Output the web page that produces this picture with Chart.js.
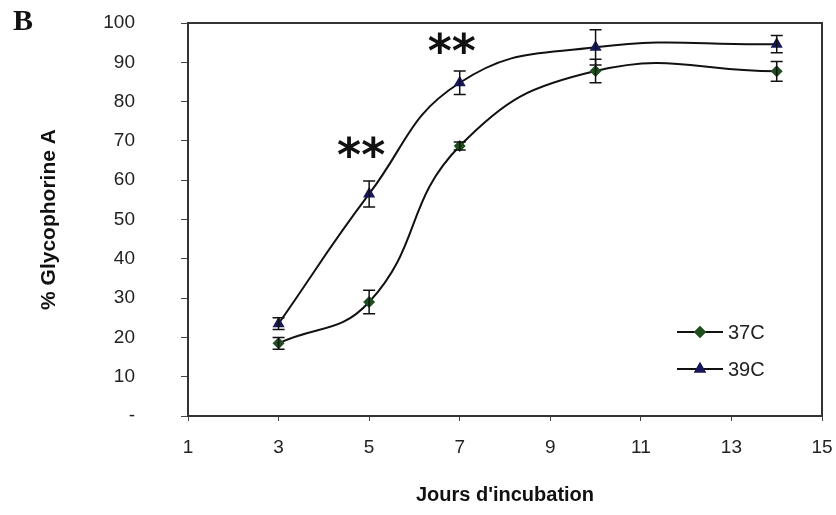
<!DOCTYPE html>
<html>
<head>
<meta charset="utf-8">
<script src="https://cdn.jsdelivr.net/npm/chart.js@4/dist/chart.umd.min.js"></script>
<style>
  html, body { margin: 0; padding: 0; background: #ffffff; }
  #wrap { width: 836px; height: 515px; position: relative; }
</style>
</head>
<body>
<div id="wrap"><canvas id="c" width="836" height="515"></canvas></div>
<script>
// ---- data ----
const days = [3, 5, 7, 10, 14];
const series37 = [18.5, 29, 68.7, 87.8, 87.7];
const err37 = [1.5, 3, 1, 3, 2.5];
const series39 = [23.5, 56.5, 84.8, 93.8, 94.6];
const err39 = [1.5, 3.3, 3, 4.5, 2.2];
const seriesNames = ['37C', '39C'];
const xTicks = [1, 3, 5, 7, 9, 11, 13, 15];
const yTicks = [0, 10, 20, 30, 40, 50, 60, 70, 80, 90, 100];
const starX = [5, 7];
const starY = [67.5, 93.8];
const starText = '**';
const panelLabel = 'B';
const yTitle = '% Glycophorine A';
const xTitle = "Jours d'incubation";

const green = '#1f4f1f';
const navy = '#17175a';

const errorBars = {
  id: 'errorBars',
  afterDatasetsDraw(chart) {
    const ctx = chart.ctx;
    const xs = chart.scales.x, ys = chart.scales.y;
    ctx.save();
    ctx.strokeStyle = '#111';
    ctx.lineWidth = 1.5;
    chart.data.datasets.forEach(ds => {
      ds.data.forEach((p, i) => {
        const e = ds.errs[i];
        const x = xs.getPixelForValue(p.x);
        const y1 = ys.getPixelForValue(p.y + e);
        const y2 = ys.getPixelForValue(p.y - e);
        ctx.beginPath();
        ctx.moveTo(x, y1); ctx.lineTo(x, y2);
        ctx.moveTo(x - 6, y1); ctx.lineTo(x + 6, y1);
        ctx.moveTo(x - 6, y2); ctx.lineTo(x + 6, y2);
        ctx.stroke();
      });
    });
    ctx.restore();
  }
};

const extras = {
  id: 'extras',
  afterDraw(chart) {
    const ctx = chart.ctx;
    const a = chart.chartArea;
    const xs = chart.scales.x, ys = chart.scales.y;
    ctx.save();
    // frame
    ctx.strokeStyle = '#333';
    ctx.lineWidth = 2;
    ctx.strokeRect(a.left, a.top, a.right - a.left, a.bottom - a.top);
    // stars
    ctx.fillStyle = '#111';
    ctx.font = 'bold 46px "DejaVu Sans"';
    ctx.textAlign = 'center';
    ctx.textBaseline = 'middle';
    starX.forEach((sx, i) => {
      ctx.fillText(starText, xs.getPixelForValue(sx) - 8, ys.getPixelForValue(starY[i]) + 8);
    });
    // panel label
    ctx.font = 'bold 30px "Liberation Serif"';
    ctx.textAlign = 'left';
    ctx.textBaseline = 'middle';
    ctx.fillText(panelLabel, 13, 22);
    // legend
    const rows = [{y: 332, color: green, style: 'rectRot', r: 6}, {y: 369, color: navy, style: 'triangle', r: 7}];
    rows.forEach((row, i) => {
      ctx.strokeStyle = '#111';
      ctx.lineWidth = 2;
      ctx.beginPath();
      ctx.moveTo(677, row.y); ctx.lineTo(723, row.y);
      ctx.stroke();
      ctx.fillStyle = row.color;
      Chart.helpers.drawPoint(ctx, {pointStyle: row.style, radius: row.r, borderWidth: 0}, 700, row.y);
      ctx.fill();
      ctx.fillStyle = '#222';
      ctx.font = '20px "Liberation Sans"';
      ctx.textAlign = 'left';
      ctx.fillText(seriesNames[i], 728, row.y + 1);
    });
    ctx.restore();
  }
};

const mk = (xs, ys) => xs.map((x, i) => ({x: x, y: ys[i]}));

new Chart(document.getElementById('c'), {
  type: 'line',
  data: {
    datasets: [
      {
        label: seriesNames[0],
        data: mk(days, series37),
        errs: err37,
        borderColor: '#111',
        borderWidth: 2,
        tension: 0.45,
        pointStyle: 'rectRot',
        pointRadius: 6,
        pointBackgroundColor: green,
        pointBorderColor: green,
        pointBorderWidth: 0,
        fill: false
      },
      {
        label: seriesNames[1],
        data: mk(days, series39),
        errs: err39,
        borderColor: '#111',
        borderWidth: 2,
        tension: 0.45,
        pointStyle: 'triangle',
        pointRadius: 7,
        pointBackgroundColor: navy,
        pointBorderColor: navy,
        pointBorderWidth: 0,
        fill: false
      }
    ]
  },
  options: {
    responsive: false,
    animation: false,
    devicePixelRatio: 1,
    layout: { padding: { top: 23, right: 14, left: 0, bottom: 0 } },
    plugins: { legend: { display: false }, tooltip: { enabled: false } },
    scales: {
      x: {
        type: 'linear',
        min: 1, max: 15,
        afterFit(s) { s.height = 99; s.paddingLeft = 0; s.paddingRight = 0; },
        afterBuildTicks(s) { s.ticks = xTicks.map(v => ({value: v})); },
        grid: { drawOnChartArea: false, drawTicks: true, tickLength: 5, color: '#444' },
        border: { display: false },
        ticks: { color: '#222', padding: 15, font: { family: 'Liberation Sans', size: 19 }, maxRotation: 0 },
        title: { display: true, text: xTitle, color: '#111', font: { family: 'Liberation Sans', size: 20, weight: 'bold' }, padding: { top: 0, bottom: 8 } }
      },
      y: {
        type: 'linear',
        min: 0, max: 100,
        afterFit(s) { s.width = 188; s.paddingTop = 0; s.paddingBottom = 0; },
        afterBuildTicks(s) { s.ticks = yTicks.map(v => ({value: v})); },
        grid: { drawOnChartArea: false, drawTicks: true, tickLength: 7, color: '#444' },
        border: { display: false },
        ticks: { color: '#222', padding: 46, font: { family: 'Liberation Sans', size: 19 },
          callback: v => v === 0 ? '-' : String(v) },
        title: { display: true, text: yTitle, color: '#111', font: { family: 'Liberation Sans', size: 21, weight: 'bold' }, padding: { top: 37, bottom: 0 } }
      }
    }
  },
  plugins: [errorBars, extras]
});
</script>
</body>
</html>
